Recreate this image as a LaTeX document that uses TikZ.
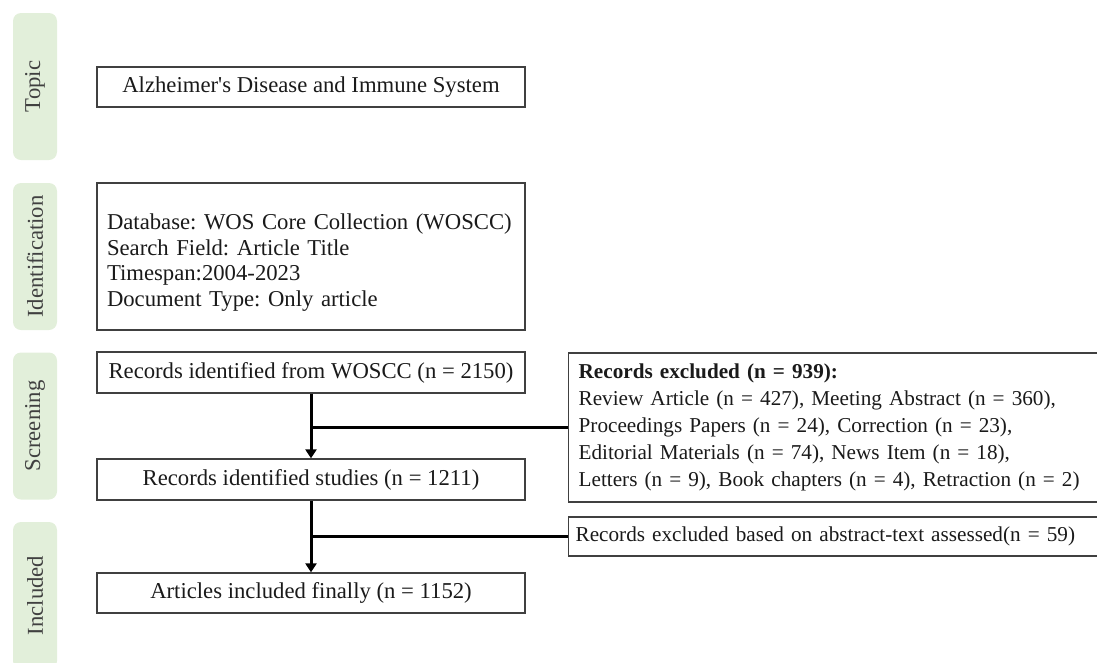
\documentclass[tikz,border=0pt]{standalone}
\usepackage{fontspec}
\setmainfont{Liberation Serif}
\usetikzlibrary{arrows.meta}
\definecolor{labfill}{HTML}{E2EFDA}
\definecolor{edgecol}{HTML}{404040}
\definecolor{txtcol}{HTML}{1A1A1A}
\frenchspacing
\begin{document}
\begin{tikzpicture}[x=1pt,y=-1pt,
  every node/.style={font=\fontsize{22.7}{25.5}\selectfont, text=txtcol},
  stage/.style={fill=labfill, rounded corners=8pt, draw=none, rotate=90,
    minimum width=147pt, minimum height=44pt, inner sep=0pt, text=edgecol},
  box/.style={draw=edgecol, line width=1.3pt, minimum width=428pt, inner sep=0pt},
  exbox/.style={draw=edgecol, line width=1.3pt, anchor=west, inner xsep=10pt, inner ysep=0pt,
    text width=600pt, align=left, font=\fontsize{21.2}{27}\selectfont},
  conn/.style={line width=3pt, black},
  arr/.style={conn, -{Triangle[length=9pt,width=11pt]}}
]
\useasboundingbox (0,0) rectangle (1097,662);
\clip (0,0) rectangle (1097,662);

% stage labels
\node[stage] (sTopic) at (35,86.5) {Topic};
\node[stage] (sIdent) at (35,256.5) {Identification};
\node[stage] (sScreen) at (35,426) {Screening};
\node[stage] (sIncl) at (35,595.5) {Included};

% left column boxes
\node[box, minimum height=40pt] (topic) at (311,87) {Alzheimer\textquotesingle s Disease and Immune System};
\node[box, minimum height=147pt, text width=408pt, inner xsep=10pt, align=left] (ident) at (311,256.5)
  {\rule{0pt}{28pt}Database: WOS Core Collection (WOSCC)\\Search Field: Article Title\\Timespan:2004-2023\\Document Type: Only article};
\node[box, minimum height=41pt] (rec) at (311,372.5) {Records identified from WOSCC (n = 2150)};
\node[box, minimum height=41pt] (stu) at (311,479.5) {Records identified studies (n = 1211)};
\node[box, minimum height=40pt] (art) at (311,593) {Articles included finally (n = 1152)};

% exclusion boxes
\node[exbox, minimum height=149pt] (exc) at (568,427.5)
  {\textbf{Records excluded (n = 939):}\\Review Article (n = 427), Meeting Abstract (n = 360),\\Proceedings Papers (n = 24), Correction (n = 23),\\Editorial Materials (n = 74), News Item (n = 18),\\Letters (n = 9), Book chapters (n = 4), Retraction (n = 2)};
\node[exbox, minimum height=39pt, inner xsep=7pt] (abs) at (568,536.5)
  {Records excluded based on abstract-text assessed(n = 59)};

% connectors
\draw[arr] (rec.south) -- (stu.north);
\draw[conn] (exc.west) -- (exc.west -| rec.south);
\draw[arr] (stu.south) -- (art.north);
\draw[conn] (abs.west) -- (abs.west -| stu.south);
\end{tikzpicture}
\end{document}
